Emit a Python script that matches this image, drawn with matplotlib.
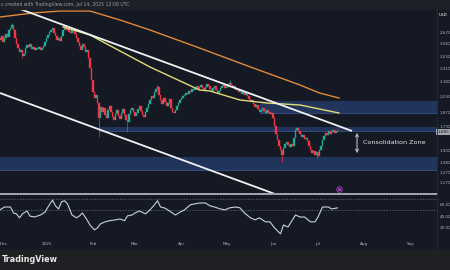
import matplotlib
matplotlib.use("Agg")
import matplotlib.pyplot as plt
import matplotlib.dates as mdates
from matplotlib.ticker import FuncFormatter
import numpy as np
import pandas as pd

# ---------------------------------------------------------------------------
# Data (daily candles from 2024-12-01)
# ---------------------------------------------------------------------------
START = pd.Timestamp("2024-12-01")
first_open = 2.62
closes = [
    2.60, 2.64, 2.58, 2.62, 2.66, 2.63, 2.70, 2.72, 2.75, 2.70, 2.62,
    2.56, 2.52, 2.48, 2.50, 2.44, 2.46, 2.52,
    2.55, 2.53, 2.56, 2.51, 2.53, 2.50, 2.52, 2.51, 2.53, 2.50, 2.52, 2.54,
    2.58, 2.62, 2.65, 2.68, 2.70, 2.72,
    2.67, 2.64, 2.60, 2.62, 2.59, 2.64,
    2.70, 2.74,
    2.70, 2.71, 2.68, 2.67, 2.70, 2.69, 2.66,
    2.62, 2.58, 2.54, 2.50, 2.56, 2.53, 2.48, 2.50,
    2.42, 2.32, 2.20, 2.08, 2.02, 2.05, 1.97, 1.82, 1.93,
    1.88, 1.92, 1.85, 1.82, 1.90, 1.94, 1.88, 1.83, 1.80, 1.86, 1.90, 1.84,
    1.81, 1.87, 1.91, 1.85, 1.80, 1.78,
    1.86, 1.90, 1.92, 1.88, 1.84, 1.87, 1.91, 1.94, 1.89, 1.85, 1.83, 1.88, 1.92,
    1.96, 2.00, 2.04, 2.02, 2.08, 2.11, 2.13,
    2.05, 2.00, 1.96, 2.02, 1.98, 1.94, 1.97, 2.01,
    1.92, 1.88, 1.87, 1.90, 1.94, 1.97, 2.00, 2.02, 2.04, 2.05, 2.07, 2.06,
    2.09, 2.08, 2.11, 2.10, 2.12, 2.14, 2.11, 2.13,
    2.15, 2.12, 2.10, 2.13, 2.16, 2.14, 2.11, 2.09, 2.12, 2.14, 2.10, 2.07,
    2.09, 2.12, 2.14, 2.15, 2.12, 2.13, 2.16, 2.17, 2.15, 2.12, 2.14, 2.10,
    2.11, 2.08, 2.10, 2.06, 2.08, 2.05,
    2.07, 2.04, 2.01, 1.98, 2.00, 1.96, 1.93, 1.95, 1.91, 1.88, 1.90, 1.92,
    1.89, 1.87, 1.90, 1.88, 1.86, 1.87,
    1.82, 1.74, 1.66, 1.60, 1.54, 1.50, 1.45,
    1.52, 1.56, 1.58,
    1.55, 1.53, 1.56, 1.54, 1.62, 1.70, 1.72,
    1.69, 1.66, 1.63, 1.65, 1.61, 1.62, 1.59,
    1.54, 1.50, 1.47, 1.49, 1.45, 1.48, 1.44,
    1.50, 1.54, 1.60, 1.64, 1.67,
    1.65, 1.69, 1.66, 1.68, 1.70, 1.67, 1.69, 1.68,
]
# visible long wicks (day index -> price)
wick_highs = {8: 2.77, 43: 2.76, 105: 2.15, 153: 2.20, 225: 1.71}
wick_lows = {15: 2.42, 66: 1.63, 85: 1.68, 188: 1.38, 211: 1.42}

# moving averages (day index, price)
ma200_days = [0, 22, 40, 60, 80, 100, 133, 167, 200, 213, 226]
ma200_vals = [2.83, 2.87, 2.89, 2.89, 2.80, 2.70, 2.52, 2.33, 2.15, 2.07, 2.02]
ma100_days = [42, 60, 100, 133, 140, 160, 178, 200, 226]
ma100_vals = [2.73, 2.65, 2.33, 2.10, 2.09, 2.00, 1.97, 1.95, 1.87]

# trendlines (day index, price)
upper_tl_days, upper_tl_vals = [13.3, 234.7], [2.91, 1.69]
lower_tl_days, lower_tl_vals = [0, 183.3], [2.07, 1.06]

# zones: (start day, low, high)
zone_start = [173, 67, 0]
zone_low = [1.87, 1.69, 1.30]
zone_high = [1.99, 1.73, 1.43]

price_ticks = [2.67, 2.56, 2.43, 2.31, 2.18, 2.03, 1.87, 1.73, 1.50, 1.38, 1.27, 1.17]

# RSI (day index, value)
rsi_days = [0, 3, 7, 9, 11, 13, 15, 18, 20, 23, 27, 30, 32, 35, 37, 39, 41, 43,
            45, 48, 51, 53, 55, 58, 60, 63, 65, 67, 70, 73, 77, 80, 83, 85, 88,
            90, 93, 97, 100, 103, 105, 107, 110, 113, 117, 120, 123, 127, 130,
            133, 137, 140, 143, 147, 150, 153, 157, 160, 163, 167, 170, 173,
            177, 180, 183, 187, 189, 192, 197, 200, 203, 207, 210, 212, 215,
            219, 221, 225]
rsi_vals = [51, 56, 56, 45.5, 44, 37, 44, 49, 40, 38.5, 42, 47, 56, 68, 58,
            52.5, 65, 67, 61.5, 42, 37, 40.5, 45.5, 33.5, 24.5, 16, 19.5, 26.5,
            30, 32, 33.5, 35, 32, 40.5, 42, 45.5, 49, 44, 51, 60, 67, 56, 54,
            49, 42, 47, 51, 60, 61.5, 63, 63, 58, 56, 52.5, 51, 54.5, 56, 54.5,
            45.5, 37, 33.5, 37, 30, 30, 19.5, 9, 24.5, 21, 42, 38.5, 38.5, 30,
            30, 38.5, 56, 56, 52.5, 54.5]
rsi_levels = [70, 50]
rsi_ticks = [60, 40, 20]

BG = "#151924"
UP, DOWN = "#22ab94", "#f23645"
TXT = "#b2b5be"


def to_num(days):
    return mdates.date2num(START) + np.asarray(days, dtype=float)


def month_label(v, pos):
    d = mdates.num2date(v)
    return str(d.year) if d.month == 1 else d.strftime("%b")


W, H = 450, 270
fig = plt.figure(figsize=(4.5, 2.7), dpi=100, facecolor=BG)

# top / bottom strips
fig.patches.append(plt.Rectangle((0, 1 - 9 / H), 1, 9 / H, transform=fig.transFigure,
                                 color="#1d2027", zorder=0))
fig.patches.append(plt.Rectangle((0, 0), 1, 20 / H, transform=fig.transFigure,
                                 color="#1f2023", zorder=0))
fig.text(1 / W, 1 - 4.5 / H, "s created with TradingView.com, Jul 14, 2025 12:08 UTC",
         fontsize=3.3, color="#9a9ca3", va="center", ha="left")
fig.text(2 / W, 10 / H, "TradingView", fontsize=5.8, color="#e8e8e8",
         fontweight="bold", va="center", ha="left")

ax = fig.add_axes([0, 1 - 193 / H, 437 / W, 183 / H])
rax = fig.add_axes([0, 1 - 238 / H, 437 / W, 43 / H], sharex=ax)
for a in (ax, rax):
    a.set_facecolor(BG)
    for s in a.spines.values():
        s.set_visible(False)

x0 = mdates.date2num(START)
xmax = x0 + 437 / 1.5
ax.set_xlim(x0, xmax)
ax.set_ylim(1.07, 2.90)

# zones
for zs, lo, hi in zip(zone_start, zone_low, zone_high):
    ax.fill_between([to_num(zs), xmax], lo, hi, color="#2b4c8c", alpha=0.55,
                    lw=0, zorder=1)
    ax.plot([to_num(zs), xmax], [lo, lo], color="#3e5d9e", lw=0.5, zorder=1)

# candles
dates = to_num(np.arange(len(closes)))
closes_a = np.array(closes)
opens_a = np.r_[first_open, closes_a[:-1]]
cols = np.where(closes_a >= opens_a, UP, DOWN)
ax.bar(dates, closes_a - opens_a, bottom=opens_a, width=0.75, color=cols,
       edgecolor=cols, linewidth=0.25, zorder=3)
for d, hv in wick_highs.items():
    ax.vlines(dates[d], max(opens_a[d], closes_a[d]), hv, color=cols[d], lw=0.5, zorder=3)
for d, lv in wick_lows.items():
    ax.vlines(dates[d], lv, min(opens_a[d], closes_a[d]), color=cols[d], lw=0.5, zorder=3)

# moving averages
ax.plot(to_num(ma200_days), ma200_vals, color="#e3893a", lw=1.0, zorder=4)
ax.plot(to_num(ma100_days), ma100_vals, color="#e2dc74", lw=1.0, zorder=4)

# trendlines
ax.plot(to_num(upper_tl_days), upper_tl_vals, color="#f2f2f2", lw=1.3, zorder=5,
        solid_capstyle="butt")
ax.plot(to_num(lower_tl_days), lower_tl_vals, color="#f2f2f2", lw=1.3, zorder=5,
        solid_capstyle="butt")

# consolidation annotation
ax.annotate("", xy=(to_num(238), 1.70), xytext=(to_num(238), 1.44),
            arrowprops=dict(arrowstyle="<->", color="#b9bcc4", lw=0.8,
                            mutation_scale=5), zorder=6)
ax.text(to_num(242), 1.57, "Consolidation Zone", fontsize=4.6, color="#e6e6e6",
        va="center", ha="left", zorder=6)
ax.plot(to_num(226), 1.11, "o", ms=4, mfc="none", mec="#b03fbf", mew=0.6, zorder=6)
ax.plot(to_num(226), 1.11, "o", ms=1.2, color="#b03fbf", zorder=6)

# price axis
ax.yaxis.tick_right()
ax.set_yticks(price_ticks)
ax.yaxis.set_major_formatter(FuncFormatter(lambda v, p: f"{v:.3f}"))
ax.tick_params(axis="y", labelsize=3, colors=TXT, length=0, pad=2)
ax.tick_params(axis="x", length=0, labelbottom=False)
ax.text(1.0 + 6 / 437, 1 - 5 / 183, "USD", transform=ax.transAxes, fontsize=3,
        color="#ffffff", ha="center", va="center", clip_on=False)
ax.text(1.0 + 6.5 / 437, 1.68, "1.680", transform=ax.get_yaxis_transform(),
        fontsize=3, color="#131722", ha="center", va="center", clip_on=False,
        bbox=dict(boxstyle="square,pad=0.3", fc="#a3a6ae", ec="none"))

# separator between panes
fig.add_artist(plt.Line2D([0, 437 / W], [1 - 194 / H, 1 - 194 / H],
                          transform=fig.transFigure, color="#c9ccd4", lw=1.1))
fig.add_artist(plt.Line2D([437 / W, 437 / W], [20 / H, 1 - 9 / H],
                          transform=fig.transFigure, color="#2a2e39", lw=0.6))

# RSI pane
rax.set_ylim(1.75, 77)
for lvl in rsi_levels:
    rax.axhline(lvl, color="#6b6f7a", lw=0.5, ls=(0, (2, 2)))
rax.axhline(2.2, color="#2a2e39", lw=0.6)
rax.plot(to_num(rsi_days), rsi_vals, color="#c8d0de", lw=0.8)
rax.yaxis.tick_right()
rax.set_yticks(rsi_ticks)
rax.yaxis.set_major_formatter(FuncFormatter(lambda v, p: f"{v:.2f}"))
rax.tick_params(axis="y", labelsize=3, colors=TXT, length=0, pad=2)

rax.xaxis.set_major_locator(mdates.MonthLocator())
rax.xaxis.set_major_formatter(FuncFormatter(month_label))
rax.tick_params(axis="x", labelsize=3, colors=TXT, length=0, pad=3)

# the first month label sits on the left edge: keep it inside the canvas
fig.canvas.draw()
for lab in rax.get_xticklabels():
    if lab.get_text() == "Dec":
        lab.set_horizontalalignment("left")

fig.savefig("out.png", dpi=100, facecolor=BG)
